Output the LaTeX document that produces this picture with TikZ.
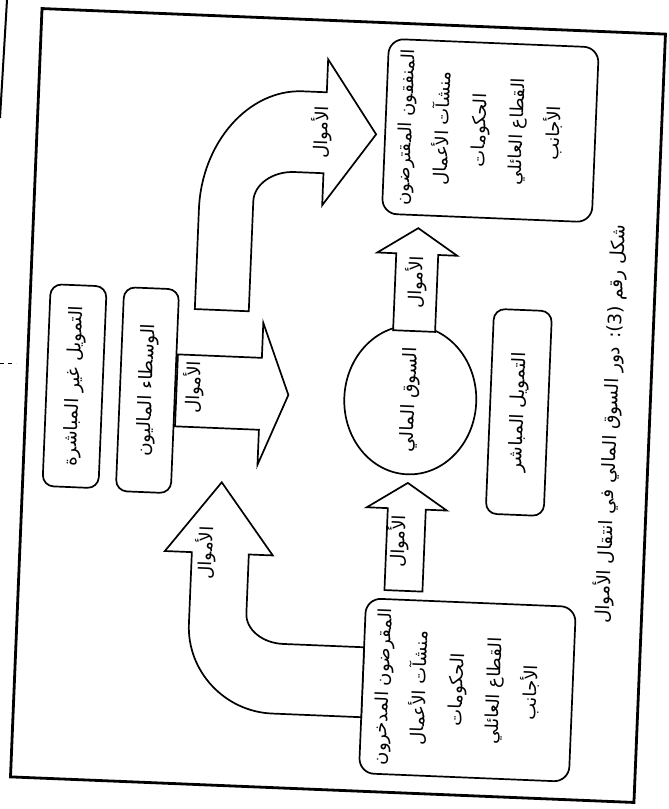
\documentclass[tikz,border=0pt]{standalone}
\usepackage{fontspec}
\usetikzlibrary{shapes.geometric}
\newfontfamily\arabicfont[Script=Arabic]{DejaVu Sans}
\TeXXeTstate=1
\begin{document}
\begin{tikzpicture}[x=1pt,y=-1pt,
  outline/.style={draw=black, line width=1.7pt, fill=white},
  frameline/.style={draw=black, line width=2.8pt},
  blockarrow/.style={outline, line join=miter},
  roundbox/.style={outline, rounded corners=15pt, inner sep=0pt},
  slimbox/.style={outline, rounded corners=11pt, rotate=90, inner sep=0pt,
    font=\arabicfont\fontsize{18.5}{22}\selectfont},
  boxtext/.style={rotate=90, align=center, inner sep=0pt,
    font=\arabicfont\fontsize{18}{37}\selectfont},
  flowlabel/.style={rotate=90, inner sep=0pt,
    font=\arabicfont\fontsize{18}{20}\selectfont},
  captiontext/.style={rotate=90, inner sep=0pt,
    font=\arabicfont\fontsize{18.5}{22}\selectfont},
]
\useasboundingbox (0,0) rectangle (669,809);
\fill[white] (0,0) rectangle (669,809);

% edge of the facing page and fold marks
\draw[line width=2pt] (7,0) -- (0,118);
\draw[line width=1pt, dash pattern=on 4pt off 4pt] (0,363) -- (16,363);

\begin{scope}[rotate around={-2.35:(338,405)}, transform shape]
  % outer frame
  \draw[frameline] (26,21) rectangle (650,790);

  % lender-savers and borrower-spenders
  \node[roundbox, minimum width=210pt, minimum height=175pt] (spenders) at (479,124.5) {};
  \node[boxtext] (spenderstext) at (469,124.5)
    {\beginR المنفقون المقترضون\endR\\ \beginR منشآت الأعمال\endR\\ \beginR الحكومات\endR\\ \beginR القطاع العائلي\endR\\ \beginR الأجانب\endR};
  \node[roundbox, minimum width=210pt, minimum height=175pt] (savers) at (479,684.5) {};
  \node[boxtext] (saverstext) at (469,684.5)
    {\beginR المقرضون المدخرون\endR\\ \beginR منشآت الأعمال\endR\\ \beginR الحكومات\endR\\ \beginR القطاع العائلي\endR\\ \beginR الأجانب\endR};

  % middle row
  \node[slimbox, minimum width=202pt, minimum height=56pt] (indirect) at (74,397) {\beginR التمويل غير المباشرة\endR};
  \node[slimbox, minimum width=204pt, minimum height=55pt] (brokers) at (147,398) {\beginR الوسطاء الماليون\endR};
  \node[slimbox, minimum width=205pt, minimum height=58pt] (direct) at (519,405) {\beginR التمويل المباشر\endR};
  \node[outline, ellipse, rotate=90, inner sep=0pt, minimum width=126pt, minimum height=132pt,
    font=\arabicfont\fontsize{18.5}{22}\selectfont] (market) at (410,397) {\beginR السوق المالي\endR};

  % indirect route: savers -> intermediaries -> spenders
  \draw[blockarrow] (374,716) -- (285,716) .. controls (237,716) and (198,677) .. (198,630)
    -- (198,558) -- (171,558) -- (225,487) -- (279,558) -- (255,558) -- (255,617)
    .. controls (255,633) and (272,646) .. (293,646) -- (374,646) -- cycle;
  \draw[blockarrow] (176,361) -- (260,361) -- (260,326) -- (288,397) -- (260,468)
    -- (260,433) -- (176,433) -- cycle;
  \draw[blockarrow] (191,315) -- (191,215) .. controls (191,148) and (236,93) .. (290,93)
    -- (314,93) -- (314,60) -- (365,133) -- (314,206) -- (314,174) -- (285,174)
    .. controls (263,174) and (245,188) .. (245,205) -- (245,315) -- cycle;

  % direct route: savers -> market -> spenders
  \draw[blockarrow] (392,588) -- (392,506) -- (371,506) -- (411,480) -- (451,506)
    -- (430,506) -- (430,588) -- cycle;
  \draw[blockarrow] (390,328) -- (390,251) -- (371,251) -- (411,225) -- (451,251)
    -- (432,251) -- (432,328) -- cycle;

  % labels on the flows
  \node[flowlabel] (fundsA) at (212,558) {\beginR الأموال\endR};
  \node[flowlabel] (fundsB) at (193,393) {\beginR الأموال\endR};
  \node[flowlabel] (fundsC) at (310,133) {\beginR الأموال\endR};
  \node[flowlabel] (fundsD) at (404,539) {\beginR الأموال\endR};
  \node[flowlabel] (fundsE) at (411,279) {\beginR الأموال\endR};

  % caption
  \node[captiontext] (caption) at (611,413)
    {\beginR شكل رقم \beginL(3):\endL{} دور السوق المالي في انتقال الأموال\endR};
\end{scope}
\end{tikzpicture}
\end{document}
